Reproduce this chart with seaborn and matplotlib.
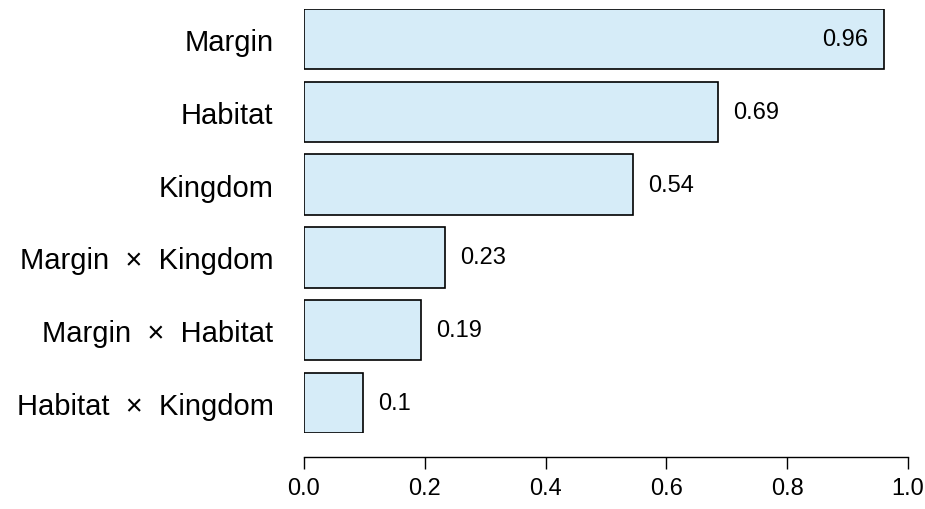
import matplotlib
matplotlib.use("Agg")
import matplotlib.pyplot as plt
import seaborn as sns
import pandas as pd

terms = ["Margin", "Habitat", "Kingdom", "Margin  \u00d7  Kingdom",
         "Margin  \u00d7  Habitat", "Habitat  \u00d7  Kingdom"]
importance = [0.96, 0.685, 0.545, 0.233, 0.193, 0.098]
value_labels = ["0.96", "0.69", "0.54", "0.23", "0.19", "0.1"]
x_ticks = [0.0, 0.2, 0.4, 0.6, 0.8, 1.0]

df = pd.DataFrame({"term": terms, "importance": importance})

sns.set_style("white")
plt.rcParams["font.family"] = ["Liberation Sans", "DejaVu Sans"]
plt.rcParams["text.color"] = "black"
plt.rcParams["xtick.color"] = "black"
plt.rcParams["ytick.color"] = "black"

fig = plt.figure(figsize=(9.25, 5.1), dpi=100)
ax = fig.add_axes([304 / 925, 1 - 434 / 510, 604 / 925, 424 / 510])

sns.barplot(data=df, x="importance", y="term", orient="h", ax=ax,
            color="#d6ecf8", edgecolor="black", linewidth=1.2,
            width=0.83, saturation=1)

ax.set_xlim(0, 1)
ax.set_ylim(5.415, -0.415)
ax.set_xlabel("")
ax.set_ylabel("")

for i, (v, lab) in enumerate(zip(importance, value_labels)):
    if v > 0.9:
        ax.text(v - 0.026, i, lab, ha="right", va="center", fontsize=17, color="black")
    else:
        ax.text(v + 0.025, i, lab, ha="left", va="center", fontsize=17, color="black")

for s in ["top", "right", "left"]:
    ax.spines[s].set_visible(False)
ax.spines["bottom"].set_position(("outward", 17.3))
ax.spines["bottom"].set_linewidth(1.0)
ax.spines["bottom"].set_color("black")
ax.set_xticks(x_ticks)
ax.set_xticklabels([f"{t:.1f}" for t in x_ticks])
ax.tick_params(axis="x", length=8.6, width=1.0, labelsize=17, pad=6,
               bottom=True, direction="out", colors="black")
ax.tick_params(axis="y", length=0, labelsize=21, pad=22, colors="black")

fig.savefig("out.png", dpi=100)
